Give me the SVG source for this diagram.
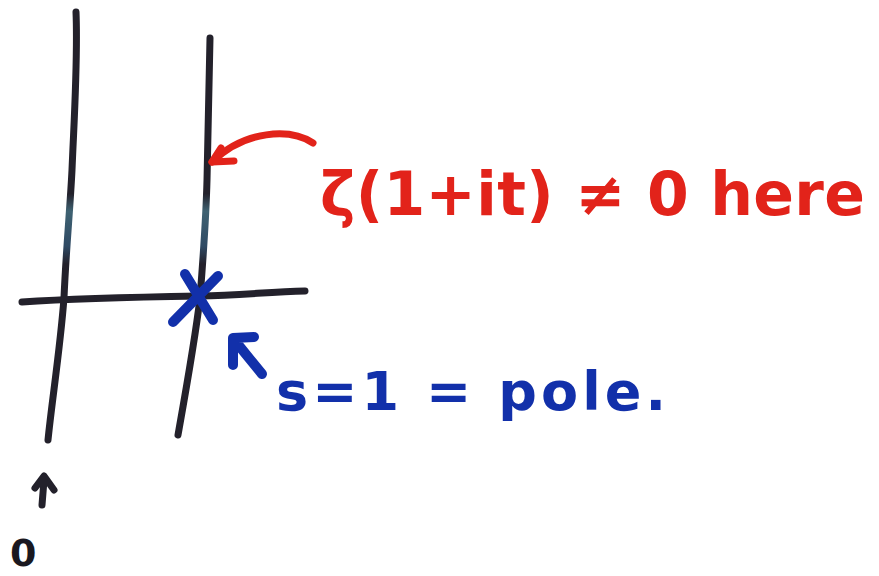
<svg xmlns="http://www.w3.org/2000/svg" width="879" height="576" viewBox="0 0 879 576">
<style>
.ink{fill:none;stroke-linecap:round;stroke-linejoin:round}
.blk{stroke:#23212b;stroke-width:7}
.red{stroke:#e2231a;stroke-width:7}
.blu{stroke:#1230aa;stroke-width:10}
.hand{font-family:"DejaVu Sans","Liberation Sans",sans-serif;font-weight:bold}
</style>
<defs>
<linearGradient id="lineGrad" gradientUnits="userSpaceOnUse" x1="0" y1="0" x2="0" y2="440">
<stop offset="0" stop-color="#23212b"/>
<stop offset="0.44" stop-color="#23212b"/>
<stop offset="0.48" stop-color="#3f6272"/>
<stop offset="0.56" stop-color="#2f4a64"/>
<stop offset="0.6" stop-color="#23212b"/>
<stop offset="1" stop-color="#23212b"/>
</linearGradient>
</defs>
<rect width="879" height="576" fill="#ffffff"/>
<g id="axes">
<path class="ink" stroke="url(#lineGrad)" stroke-width="7" d="M76,12 C78,60 74,120 72,170 C70,210 66,250 64,298 C60,350 52,400 48,440"/>
<path class="ink" stroke="url(#lineGrad)" stroke-width="7" d="M210,38 C209,90 208,140 207,180 C206,220 203,260 200,298 C195,340 186,390 178,435"/>
<path class="ink blk" d="M22,302 C80,298 140,297 200,296 C240,295 270,292 305,291"/>
</g>
<g id="pole">
<path class="ink blu" d="M185,274 L213,320 M218,276 L173,322"/>
<path class="ink blu" d="M233,365 L233,338 L254,337 M236,342 L262,374"/>
<text class="hand" x="276" y="410" font-size="54" fill="#1230aa" textLength="390" lengthAdjust="spacing">s=1 = pole.</text>
</g>
<g id="note">
<path class="ink red" d="M313,143 C290,128 245,130 212,162"/>
<path class="ink red" d="M221,148 L212,162 L234,161"/>
<text class="hand" x="320" y="215" font-size="60" fill="#e2231a" textLength="545" lengthAdjust="spacing">ζ(1+it) ≠ 0 here</text>
</g>
<g id="origin">
<path class="ink blk" d="M42,505 L44,480 M35,488 L44,476 L54,490"/>
<text class="hand" x="10" y="566" font-size="38" fill="#1a1820">0</text>
</g>
</svg>
